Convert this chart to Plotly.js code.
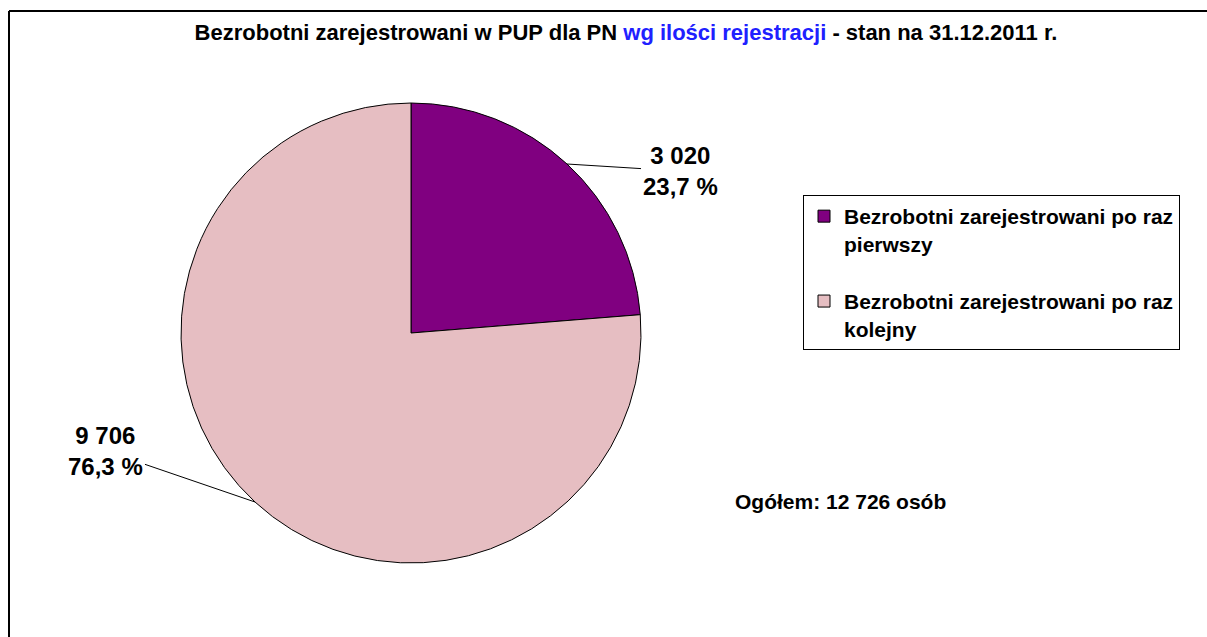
<!DOCTYPE html>
<html>
<head>
<meta charset="utf-8">
<script src="https://cdn.plot.ly/plotly-3.0.1.min.js"></script>
<style>html,body{margin:0;padding:0;background:#fff;overflow:hidden;}#chart{width:1207px;height:637px;}</style>
</head>
<body>
<div id="chart"></div>
<script>
// ---- data ----
var categories = ["Bezrobotni zarejestrowani po raz pierwszy", "Bezrobotni zarejestrowani po raz kolejny"];
var values = [3020, 9706];
var colors = ["#800080", "#E6BEC2"];
var titleMain = "Bezrobotni zarejestrowani w PUP dla PN ";
var titleBlue = "wg ilości rejestracji";
var titleEnd = " - stan na 31.12.2011 r.";
var totalLabel = "Ogółem: ";
var totalUnit = " osób";

// ---- layout geometry ----
var W = 1207, H = 637;
var CX = 411, CY = 333, R = 230;
var FONT = "Liberation Sans, Arial, sans-serif";

function fmtInt(n) { return String(n).replace(/\B(?=(\d{3})+(?!\d))/g, " "); }
function fmtPct(p) { return (p * 100).toFixed(1).replace(".", ",") + " %"; }
function wrapLegend(s) {
  var i = s.lastIndexOf(" ");
  return s.slice(0, i) + "<br>" + s.slice(i + 1);
}

var total = values.reduce(function (a, b) { return a + b; }, 0);
var legendLabels = categories.map(function (c, i) {
  return "<b>" + wrapLegend(c) + "</b>" + (i < categories.length - 1 ? "<br> " : "");
});

var trace = {
  type: "pie",
  labels: legendLabels,
  values: values,
  sort: false,
  direction: "clockwise",
  rotation: 0,
  textinfo: "none",
  hoverinfo: "label+value+percent",
  marker: { colors: colors, line: { color: "#000", width: 1 } },
  domain: { x: [(CX - R) / W, (CX + R) / W], y: [1 - (CY + R) / H, 1 - (CY - R) / H] }
};

// label offsets (pixels) from slice edge point
var labelOffsets = [[113, 7], [-149, -51]];
var annotations = [];
var cum = 0;
values.forEach(function (v, i) {
  var mid = (cum + v / 2) / total * 2 * Math.PI;
  cum += v;
  var px = CX + R * Math.sin(mid), py = CY - R * Math.cos(mid);
  annotations.push({
    xref: "paper", yref: "paper", x: px / W, y: 1 - py / H,
    text: "<b>" + fmtInt(v) + "<br>" + fmtPct(v / total) + "</b>",
    showarrow: true, arrowhead: 0, arrowwidth: 1, arrowcolor: "#000",
    ax: labelOffsets[i][0], ay: labelOffsets[i][1], standoff: 0,
    font: { family: FONT, size: 24, color: "#000" }, align: "center"
  });
});
annotations.push({
  xref: "paper", yref: "paper", x: 840 / W, y: 1 - 501 / H,
  xanchor: "center", yanchor: "middle", showarrow: false,
  text: "<b>" + totalLabel + fmtInt(total) + totalUnit + "</b>",
  font: { family: FONT, size: 21, color: "#000" }
});

var layout = {
  width: W, height: H, autosize: false,
  margin: { l: 0, r: 0, t: 0, b: 0 },
  paper_bgcolor: "#fff", plot_bgcolor: "#fff",
  font: { family: FONT, color: "#000" },
  title: {
    text: "<b>" + titleMain + "<span style=\"color:#2020FF\">" + titleBlue + "</span>" + titleEnd + "</b>",
    x: 626 / W, xanchor: "center", y: 1 - 32 / H, yanchor: "middle",
    font: { family: FONT, size: 22, color: "#000" }
  },
  showlegend: true,
  legend: {
    x: 803 / W, y: 1 - 195 / H, xanchor: "left", yanchor: "top",
    bgcolor: "#fff", bordercolor: "#000", borderwidth: 1,
    valign: "top",
    font: { family: FONT, size: 21, color: "#000" }
  },
  annotations: annotations,
  shapes: [
    { type: "line", xref: "paper", yref: "paper", x0: 9 / W, x1: 1.1, y0: 1 - 11 / H, y1: 1 - 11 / H,
      line: { color: "#000", width: 2 }, layer: "below" },
    { type: "line", xref: "paper", yref: "paper", x0: 9 / W, x1: 9 / W, y0: -0.1, y1: 1 - 11 / H,
      line: { color: "#000", width: 2 }, layer: "below" }
  ]
};

Plotly.newPlot("chart", [trace], layout, { displayModeBar: false, staticPlot: true });
</script>
</body>
</html>
